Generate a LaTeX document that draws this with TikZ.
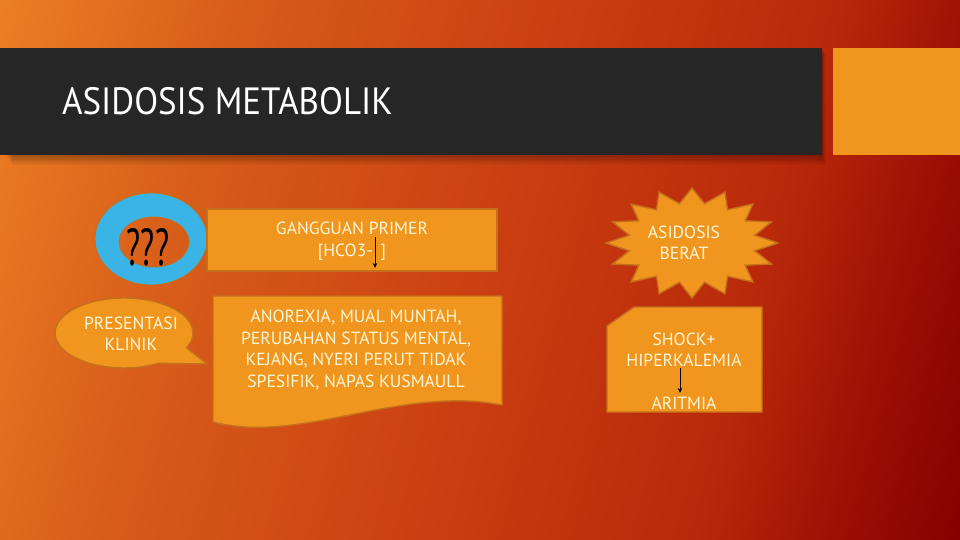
\documentclass[tikz,border=0pt]{standalone}
\usepackage{fontspec}
\setmainfont{PT Sans}
\usetikzlibrary{arrows.meta}
\definecolor{gA}{RGB}{236,126,36}
\definecolor{gB}{RGB}{216,94,26}
\definecolor{gC}{RGB}{203,64,17}
\definecolor{gD}{RGB}{184,40,10}
\definecolor{gE}{RGB}{155,15,4}
\definecolor{gF}{RGB}{135,0,0}
\pgfdeclarehorizontalshading{bgshade}{100bp}{color(0bp)=(gA); color(19.4bp)=(gA); color(32bp)=(gB); color(50bp)=(gC); color(66bp)=(gD); color(74bp)=(gE); color(80.6bp)=(gF); color(100bp)=(gF)}
\definecolor{barc}{RGB}{38,38,38}
\definecolor{boxc}{RGB}{240,150,30}
\definecolor{boxline}{RGB}{196,112,28}
\definecolor{ringblue}{RGB}{58,180,230}
\definecolor{txtc}{RGB}{255,246,214}
\tikzset{
  shapebox/.style={fill=boxc, draw=boxline, line width=1.4pt},
  lbl/.style={text=txtc, font=\fontsize{17.6}{21.5}\selectfont, align=center, inner sep=0pt},
  txtarrow/.style={-{Stealth[length=5pt,width=4.5pt]}, line width=0.9pt, black},
}
\begin{document}
\begin{tikzpicture}[x=1pt,y=-1pt]
\useasboundingbox (0,0) rectangle (960,540);
\shade[shading=bgshade, shading angle=-15] (0,0) rectangle (960,540);
% header shadow
\foreach \i in {1,...,6}{
  \fill[black,opacity=0.05] (6+\i,48+\i) rectangle (822+0.6*\i,155+1.6*\i);
}
\fill[barc] (0,48) rectangle (822,155);
\fill[boxc] (833,48) rectangle (960,155);
\node[anchor=base west, text=white, font=\fontsize{38}{40}\selectfont, inner sep=0pt] (title) at (62,115) {\scalebox{0.92}[1]{ASIDOSIS METABOLIK}};
% ring
\path[fill=ringblue, draw=boxline, line width=0.8pt, even odd rule] (151,239) ellipse [x radius=56pt, y radius=46pt] (154,242) ellipse [x radius=35pt, y radius=25pt];
\node[font=\fontsize{52}{52}\selectfont, inner sep=0pt] (q) at (148,247) {\scalebox{0.62}[1]{???}};
% callout
\draw[shapebox] plot[domain=60:385, samples=90] ({124+69*cos(\x)},{333+35*sin(\x)}) -- (207,364) -- cycle;
\node[lbl] (klinik) at (131,334) {PRESENTASI\\KLINIK};
% primer box
\node[shapebox, rectangle, minimum width=290pt, minimum height=62pt] (primerbox) at (352,240) {};
\node[lbl] (primer) at (352,241.5) {GANGGUAN PRIMER\\{[HCO3-\hspace{8pt}]}};
\coordinate (a1s) at (375,237);
\coordinate (a1e) at (375,268);
\draw[txtarrow] (a1s) -- (a1e);
% document shape
\draw[shapebox] (213,296) -- (502,296) -- (502,405) .. controls (400,385) and (300,445) .. (213,422) -- cycle;
\node[lbl] (gejala) at (356,350) {ANOREXIA, MUAL MUNTAH,\\PERUBAHAN STATUS MENTAL,\\KEJANG, NYERI PERUT TIDAK\\SPESIFIK, NAPAS KUSMAULL};
% starburst
\draw[shapebox] plot[samples at={0,...,31}] ({692+ifthenelse(mod(\x,2)==0,86,64)*cos(90+11.25*\x)},{243-ifthenelse(mod(\x,2)==0,55,40)*sin(90+11.25*\x)}) -- cycle;
\node[lbl] (berat) at (684,243) {ASIDOSIS\\BERAT};
% snip box
\draw[shapebox] (634,307) -- (762,307) -- (762,412) -- (607,412) -- (607,326) -- cycle;
\node[lbl] (shock) at (684,349.5) {SHOCK+\\HIPERKALEMIA};
\node[lbl] (aritmia) at (684,403) {ARITMIA};
\coordinate (a2s) at (680,368);
\coordinate (a2e) at (680,393);
\draw[txtarrow] (a2s) -- (a2e);
\end{tikzpicture}
\end{document}
